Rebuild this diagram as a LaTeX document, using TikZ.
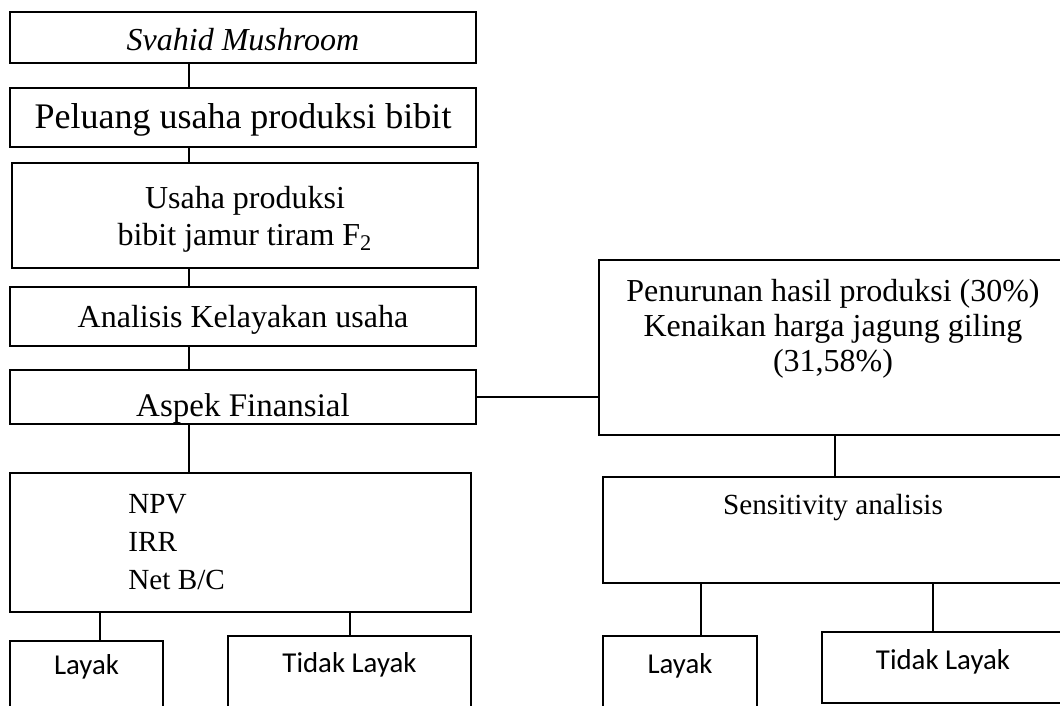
\documentclass[tikz,border=0pt]{standalone}
\usepackage{fontspec}
\setmainfont{Liberation Serif}
\newfontfamily\calibri{Carlito}
\usetikzlibrary{positioning,calc}

\begin{document}
\begin{tikzpicture}
  [
      x=0.5pt, y=-0.5pt,
      box/.style={draw, rectangle, line width=0.8pt, inner sep=0pt},
      heavy box/.style={box, line width=1.2pt},
      txt/.style={anchor=base, inner sep=0pt, font=\fontsize{16}{18}\selectfont},
      txt small/.style={txt, font=\fontsize{14.6}{17}\selectfont},
      txt calibri/.style={anchor=base, inner sep=0pt, font=\calibri\fontsize{14.4}{17}\selectfont},
      link/.style={line width=0.75pt}
    ]
    \useasboundingbox (0,0) rectangle (1060,706);
    \clip (0,0) rectangle (1060,706);
    % left column
    \node (svahid) [box, minimum width=233pt, minimum height=25.5pt] at (243,37.5) {};
    \node (peluang) [box, minimum width=233pt, minimum height=29.5pt] at (243,117.5) {};
    \node (usaha) [heavy box, minimum width=233pt, minimum height=52.5pt] at (245,215.5) {};
    \node (analisis) [box, minimum width=233pt, minimum height=29.5pt] at (243,316.5) {};
    \node (aspek) [box, minimum width=233pt, minimum height=27pt] at (243,397) {};
    \node (npv) [heavy box, minimum width=230.5pt, minimum height=69.5pt] at (240.5,542.5) {};
    \node (layakA) [box, minimum width=76.5pt, minimum height=39.5pt] at (86.5,680.5) {};
    \node (tidakA) [box, minimum width=121.5pt, minimum height=42pt] at (349.5,678) {};
    % right column
    \node (penurunan) [box, minimum width=234.5pt, minimum height=87.5pt] at (833.5,347.5) {};
    \node (sens) [box, minimum width=232.5pt, minimum height=53pt] at (835.5,530) {};
    \node (layakB) [box, minimum width=77pt, minimum height=42pt] at (680,678) {};
    \node (tidakB) [box, minimum width=121pt, minimum height=35.5pt] at (943,667.5) {};

    % texts
    \node (svahidT) [txt] at (243,51) {\itshape Svahid Mushroom};
    \node (peluangT) [txt, font=\fontsize{18}{20}\selectfont] at (243,128) {Peluang usaha produksi bibit};
    \node (usahaT1) [txt] at (245,208) {Usaha produksi};
    \node (usahaT2) [txt] at (245,245) {bibit jamur tiram F\textsubscript{2}};
    \node (analisisT) [txt] at (243,327) {Analisis Kelayakan usaha};
    \node (aspekT) [txt, font=\fontsize{16.5}{19}\selectfont] at (243,416) {Aspek Finansial};
    \node (penT1) [txt] at (833,301) {Penurunan hasil produksi (30\%)};
    \node (penT2) [txt] at (833,336) {Kenaikan harga jagung giling};
    \node (penT3) [txt] at (833,371) {(31,58\%)};
    \node (sensT) [txt small] at (833,514) {Sensitivity analisis};
    \node (npvT) [txt small, anchor=base west] at (128,513) {NPV};
    \node (irrT) [txt small, anchor=base west] at (128,551) {IRR};
    \node (bcT) [txt small, anchor=base west] at (128,589) {Net B/C};
    \node (layakAT) [txt calibri] at (86.5,674) {Layak};
    \node (tidakAT) [txt calibri] at (349.5,672) {Tidak Layak};
    \node (layakBT) [txt calibri] at (680,673) {Layak};
    \node (tidakBT) [txt calibri] at (943,669) {Tidak Layak};

    % connectors
    \foreach \n/\x in {spine/189, rspine/835, kiriA/100, kananA/350, kiriB/701, kananB/933}
      \coordinate (\n) at (\x,0);
    \foreach \i/\j in {svahid/peluang, peluang/usaha, usaha/analisis, analisis/aspek, aspek/npv}
      \draw [link] (\i.south -| spine) -- (\j.north -| spine);
    \draw [link] (aspek.east) -- (aspek.east -| penurunan.west);
    \draw [link] (penurunan.south -| rspine) -- (sens.north -| rspine);
    \foreach \i/\j/\k in {npv/layakA/kiriA, npv/tidakA/kananA, sens/layakB/kiriB, sens/tidakB/kananB}
      \draw [link] (\i.south -| \k) -- (\j.north -| \k);
\end{tikzpicture}
\end{document}
